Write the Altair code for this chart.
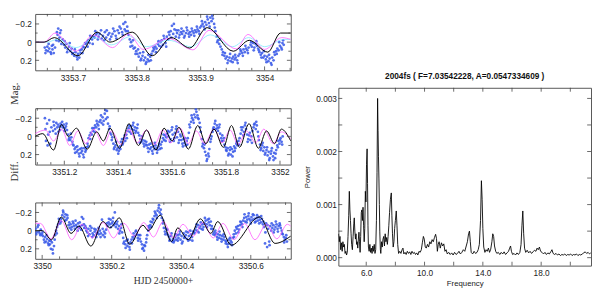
import altair as alt
import pandas as pd

# ---------------- data: observed light curves (HJD - 2450000, diff. mag) ----------------
p1_obs = [
 (3353.656,0.06),(3353.658,0.09),(3353.660,0.05),(3353.661,0.10),(3353.663,0.07),(3353.665,0.11),(3353.667,0.04),(3353.668,0.08),(3353.670,0.12),(3353.672,0.06),
 (3353.674,-0.02),(3353.676,-0.08),(3353.677,-0.15),(3353.679,-0.05),(3353.680,-0.10),(3353.682,0.02),(3353.684,-0.03),
 (3353.686,0.03),(3353.688,0.06),(3353.690,0.02),(3353.692,0.08),(3353.694,0.05),(3353.696,0.10),(3353.698,0.07),
 (3353.700,0.12),(3353.702,0.15),(3353.704,0.11),(3353.706,0.16),(3353.708,0.13),(3353.710,0.17),(3353.712,0.12),
 (3353.714,0.08),(3353.716,0.05),(3353.718,0.06),(3353.720,0.02),(3353.722,0.00),(3353.724,-0.02),(3353.726,0.01),(3353.728,-0.04),(3353.730,-0.03),(3353.732,-0.06),(3353.734,-0.05),
 (3353.736,-0.08),(3353.738,-0.10),(3353.740,-0.06),(3353.742,-0.09),(3353.745,-0.04),(3353.747,-0.07),(3353.750,-0.11),(3353.752,-0.05),(3353.755,-0.08),(3353.757,-0.10),(3353.760,-0.06),
 (3353.762,-0.09),(3353.765,-0.12),(3353.767,-0.07),(3353.770,-0.13),(3353.772,-0.10),(3353.775,-0.15),(3353.777,-0.11),(3353.779,-0.20),(3353.781,-0.14),(3353.783,-0.12),(3353.785,-0.17),
 (3353.787,-0.08),(3353.789,-0.03),(3353.791,0.00),(3353.793,0.04),(3353.795,0.07),(3353.797,0.06),(3353.799,0.10),
 (3353.801,0.13),(3353.803,0.16),(3353.805,0.12),(3353.807,0.18),(3353.809,0.15),(3353.811,0.20),(3353.813,0.17),(3353.815,0.22),(3353.817,0.19),(3353.819,0.21),(3353.821,0.16),
 (3353.823,0.13),(3353.825,0.10),(3353.827,0.08),(3353.829,0.05),(3353.831,0.07),(3353.833,0.02),(3353.835,0.04),
 (3353.837,0.00),(3353.839,-0.02),(3353.841,0.03),(3353.843,-0.04),(3353.845,0.01),(3353.847,-0.06),(3353.849,-0.03),(3353.851,-0.08),
 (3353.853,-0.12),(3353.855,-0.18),(3353.857,-0.09),(3353.859,-0.14),(3353.861,-0.06),(3353.863,-0.10),(3353.865,-0.13),(3353.867,-0.08),(3353.869,-0.11),(3353.871,-0.09),(3353.873,-0.12),(3353.875,-0.07),(3353.877,-0.10),(3353.879,-0.13),
 (3353.881,-0.09),(3353.883,-0.11),(3353.885,-0.08),(3353.887,-0.12),(3353.889,-0.10),(3353.891,-0.13),(3353.893,-0.11),(3353.895,-0.14),(3353.897,-0.12),(3353.899,-0.16),
 (3353.901,-0.18),(3353.903,-0.20),(3353.905,-0.17),(3353.907,-0.22),(3353.909,-0.19),(3353.911,-0.25),(3353.913,-0.21),(3353.915,-0.27),(3353.917,-0.23),(3353.919,-0.26),(3353.921,-0.20),
 (3353.923,-0.12),(3353.925,-0.06),(3353.927,-0.02),(3353.929,0.02),(3353.931,0.05),(3353.933,0.08),(3353.935,0.11),
 (3353.937,0.15),(3353.939,0.18),(3353.941,0.16),(3353.943,0.20),(3353.945,0.17),(3353.947,0.21),(3353.949,0.18),(3353.951,0.16),(3353.953,0.19),(3353.955,0.17),(3353.957,0.20),(3353.959,0.15),
 (3353.961,0.13),(3353.963,0.10),(3353.965,0.12),(3353.967,0.08),(3353.969,0.11),(3353.971,0.07),(3353.973,0.09),(3353.975,0.06),
 (3353.978,0.03),(3353.980,0.05),(3353.982,0.01),(3353.984,0.06),(3353.986,0.02),(3353.988,0.04),(3353.990,0.07),
 (3353.992,0.11),(3353.994,0.14),(3353.996,0.12),(3353.998,0.17),(3354.000,0.15),(3354.002,0.19),(3354.004,0.16),(3354.006,0.21),(3354.008,0.18),(3354.010,0.23),(3354.012,0.17),(3354.014,0.20),(3354.016,0.14),
 (3354.018,0.10),(3354.020,0.07),(3354.022,0.09),(3354.024,0.04),(3354.026,0.06),(3354.028,0.01),(3354.030,0.03),
]
p1_obs_b = [
 (3353.657,0.12),(3353.662,0.02),(3353.666,0.13),(3353.669,0.03),(3353.675,-0.11),(3353.678,-0.01),(3353.681,-0.13),(3353.687,-0.01),
 (3353.691,0.11),(3353.695,0.01),(3353.699,0.13),(3353.703,0.08),(3353.707,0.19),(3353.711,0.09),(3353.715,0.12),(3353.719,0.01),
 (3353.723,0.05),(3353.727,-0.07),(3353.731,0.02),(3353.735,-0.12),(3353.739,-0.03),(3353.744,-0.13),(3353.749,-0.02),(3353.753,-0.13),
 (3353.758,-0.03),(3353.763,-0.15),(3353.768,-0.04),(3353.773,-0.17),(3353.778,-0.08),(3353.782,-0.22),(3353.786,-0.12),(3353.790,0.05),
 (3353.794,-0.02),(3353.798,0.13),(3353.802,0.08),(3353.806,0.20),(3353.810,0.11),(3353.814,0.24),(3353.818,0.14),(3353.822,0.20),
 (3353.826,0.06),(3353.830,0.11),(3353.834,-0.01),(3353.838,0.05),(3353.842,-0.07),(3353.846,0.05),(3353.850,-0.11),(3353.854,-0.05),
 (3353.858,-0.20),(3353.862,-0.13),(3353.866,-0.05),(3353.870,-0.15),(3353.874,-0.05),(3353.878,-0.16),(3353.882,-0.06),(3353.886,-0.15),
 (3353.890,-0.07),(3353.894,-0.17),(3353.898,-0.09),(3353.902,-0.23),(3353.906,-0.14),(3353.910,-0.28),(3353.914,-0.17),(3353.918,-0.29),
 (3353.922,-0.16),(3353.926,0.00),(3353.930,-0.03),(3353.934,0.14),(3353.938,0.12),(3353.942,0.23),(3353.946,0.13),(3353.950,0.22),
 (3353.954,0.14),(3353.958,0.23),(3353.962,0.08),(3353.966,0.15),(3353.970,0.04),(3353.974,0.12),(3353.979,0.00),(3353.983,0.09),
 (3353.987,-0.01),(3353.991,0.09),(3353.995,0.17),(3353.999,0.10),(3354.003,0.22),(3354.007,0.14),(3354.011,0.25),(3354.015,0.11),
 (3354.019,0.13),(3354.023,0.00),(3354.027,0.08),(3354.029,-0.02),
]
p2_obs = [
 (3351.128,-0.20),(3351.132,0.05),(3351.136,-0.14),(3351.140,-0.02),(3351.144,-0.18),(3351.148,0.08),(3351.152,-0.10),
 (3351.158,-0.06),(3351.162,-0.12),(3351.166,-0.08),(3351.170,-0.15),(3351.174,-0.10),(3351.178,-0.05),
 (3351.182,-0.11),(3351.186,-0.14),(3351.190,-0.12),(3351.194,-0.10),(3351.198,-0.13),(3351.202,-0.09),(3351.206,-0.11),(3351.210,-0.07),
 (3351.214,-0.02),(3351.218,0.02),(3351.222,0.04),(3351.226,0.01),(3351.230,0.06),
 (3351.234,0.10),(3351.238,0.14),(3351.242,0.12),(3351.246,0.17),(3351.250,0.15),(3351.254,0.19),(3351.258,0.14),(3351.262,0.18),(3351.266,0.16),(3351.270,0.20),(3351.274,0.13),(3351.278,0.17),(3351.282,0.12),(3351.286,0.08),
 (3351.290,0.02),(3351.294,-0.01),(3351.298,-0.04),(3351.302,-0.02),(3351.306,-0.06),
 (3351.310,-0.09),(3351.314,-0.12),(3351.318,-0.10),(3351.322,-0.14),(3351.326,-0.12),(3351.330,-0.16),
 (3351.334,-0.18),(3351.338,-0.15),(3351.342,-0.21),(3351.346,-0.17),(3351.350,-0.25),(3351.354,-0.19),(3351.358,-0.28),(3351.362,-0.14),
 (3351.366,-0.08),(3351.370,-0.04),(3351.374,-0.02),(3351.378,0.01),
 (3351.382,0.08),(3351.386,0.12),(3351.390,0.10),(3351.394,0.15),(3351.398,0.13),(3351.402,0.16),(3351.406,0.11),
 (3351.410,0.06),(3351.414,0.03),(3351.418,0.07),(3351.422,0.02),(3351.426,0.05),
 (3351.430,-0.02),(3351.434,-0.06),(3351.438,-0.09),(3351.442,-0.05),(3351.446,-0.11),(3351.450,-0.08),(3351.454,-0.12),(3351.458,-0.07),(3351.462,-0.10),(3351.466,-0.06),(3351.470,-0.09),(3351.474,-0.04),(3351.478,-0.01),
 (3351.482,0.03),(3351.486,0.06),(3351.490,0.04),(3351.494,0.08),(3351.498,0.05),(3351.502,0.09),
 (3351.506,0.10),(3351.510,0.13),(3351.514,0.09),(3351.518,0.14),(3351.522,0.12),(3351.526,0.16),(3351.530,0.11),(3351.534,0.14),(3351.538,0.10),(3351.542,0.13),(3351.546,0.15),(3351.550,0.11),(3351.554,0.14),(3351.558,0.09),
 (3351.562,0.06),(3351.566,0.02),(3351.570,0.04),(3351.574,-0.01),(3351.578,0.01),(3351.582,-0.03),(3351.586,0.00),
 (3351.590,-0.05),(3351.594,0.03),(3351.598,-0.07),(3351.602,-0.02),(3351.606,0.05),(3351.610,-0.04),(3351.614,-0.08),(3351.618,0.01),(3351.622,-0.05),(3351.626,0.04),(3351.630,-0.02),
 (3351.634,0.04),(3351.638,0.08),(3351.642,0.03),(3351.646,0.07),(3351.650,0.10),(3351.654,0.05),(3351.658,0.02),(3351.662,-0.04),
 (3351.666,-0.10),(3351.670,-0.16),(3351.674,-0.20),(3351.678,-0.18),(3351.682,-0.24),(3351.686,-0.21),(3351.690,-0.27),(3351.694,-0.23),(3351.698,-0.19),(3351.702,-0.15),
 (3351.706,-0.05),(3351.710,0.03),(3351.714,0.08),(3351.718,0.13),(3351.722,0.17),(3351.726,0.21),(3351.730,0.25),(3351.734,0.19),(3351.738,0.14),
 (3351.742,0.06),(3351.746,0.00),(3351.750,-0.05),(3351.754,-0.10),(3351.758,-0.14),(3351.762,-0.08),(3351.766,-0.12),(3351.770,-0.06),(3351.774,-0.10),(3351.778,-0.03),(3351.782,0.02),(3351.786,-0.01),
 (3351.790,0.05),(3351.794,0.09),(3351.798,0.12),(3351.802,0.16),(3351.806,0.13),(3351.810,0.19),(3351.814,0.15),(3351.818,0.20),(3351.822,0.14),(3351.826,0.17),(3351.830,0.11),(3351.834,0.13),(3351.838,0.08),(3351.842,0.10),(3351.846,0.05),
 (3351.850,0.02),(3351.854,-0.03),(3351.858,-0.07),(3351.862,-0.10),(3351.866,-0.05),(3351.870,-0.12),(3351.874,-0.08),(3351.878,-0.02),(3351.882,0.03),(3351.886,-0.01),(3351.890,0.04),(3351.894,0.00),
 (3351.898,-0.06),(3351.902,-0.10),(3351.906,-0.14),(3351.910,-0.08),(3351.914,-0.12),(3351.918,-0.05),
 (3351.922,0.04),(3351.926,0.09),(3351.930,0.13),(3351.934,0.10),(3351.938,0.16),(3351.942,0.12),(3351.946,0.18),(3351.950,0.15),(3351.954,0.21),(3351.958,0.17),(3351.962,0.24),(3351.966,0.19),(3351.970,0.13),
 (3351.974,0.22),(3351.978,0.18),(3351.982,0.24),(3351.986,0.15),(3351.990,0.10),(3351.994,0.05),(3351.998,0.08),(3352.002,0.02),(3352.006,0.06),(3352.010,0.00),
]
p2_obs_b = [
 (3351.130,-0.08),(3351.138,0.10),(3351.146,-0.05),(3351.160,-0.16),(3351.168,-0.03),(3351.176,-0.13),(3351.184,-0.07),(3351.192,-0.16),
 (3351.200,-0.06),(3351.208,-0.14),(3351.216,0.04),(3351.224,-0.03),(3351.232,0.09),(3351.240,0.18),(3351.248,0.11),(3351.256,0.22),
 (3351.264,0.13),(3351.272,0.23),(3351.280,0.15),(3351.288,0.11),(3351.296,0.03),(3351.304,-0.09),(3351.312,-0.05),(3351.320,-0.17),
 (3351.328,-0.08),(3351.336,-0.23),(3351.344,-0.13),(3351.352,-0.29),(3351.360,-0.21),(3351.368,-0.11),(3351.376,0.04),(3351.384,0.14),
 (3351.392,0.06),(3351.400,0.19),(3351.408,0.14),(3351.416,0.09),(3351.424,-0.01),(3351.432,0.02),(3351.440,-0.12),(3351.448,-0.03),
 (3351.456,-0.15),(3351.464,-0.04),(3351.472,-0.13),(3351.480,0.07),(3351.488,0.00),(3351.496,0.11),(3351.504,0.06),(3351.512,0.17),
 (3351.520,0.08),(3351.528,0.19),(3351.536,0.07),(3351.544,0.18),(3351.552,0.08),(3351.560,0.13),(3351.568,-0.02),(3351.576,0.05),
 (3351.584,-0.06),(3351.592,0.06),(3351.600,-0.10),(3351.608,0.02),(3351.616,-0.11),(3351.624,0.07),(3351.632,0.00),(3351.640,0.11),
 (3351.648,0.02),(3351.656,0.09),(3351.664,-0.13),(3351.672,-0.23),(3351.680,-0.15),(3351.688,-0.30),(3351.696,-0.20),(3351.704,-0.10),
 (3351.712,0.11),(3351.720,0.09),(3351.728,0.27),(3351.736,0.22),(3351.744,0.03),(3351.752,-0.08),(3351.760,-0.17),(3351.768,-0.09),
 (3351.776,-0.13),(3351.784,0.05),(3351.792,0.02),(3351.800,0.15),(3351.808,0.21),(3351.816,0.12),(3351.824,0.22),(3351.832,0.16),
 (3351.840,0.06),(3351.848,0.09),(3351.856,-0.10),(3351.864,-0.01),(3351.872,-0.15),(3351.880,0.06),(3351.888,-0.04),(3351.896,0.07),
 (3351.904,-0.13),(3351.912,-0.16),(3351.920,0.00),(3351.928,0.15),(3351.936,0.07),(3351.944,0.20),(3351.952,0.12),(3351.960,0.26),
 (3351.968,0.16),(3351.976,0.26),(3351.984,0.19),(3351.992,0.12),(3352.000,0.04),(3352.008,0.09),
]
p3_obs = [
 (3349.981,-0.02),(3349.984,0.02),(3349.987,-0.04),(3349.990,0.01),(3349.993,0.03),(3349.996,-0.01),(3349.999,0.04),
 (3350.002,0.06),(3350.005,0.10),(3350.008,0.07),(3350.011,0.12),(3350.014,0.09),(3350.017,0.14),(3350.020,0.11),
 (3350.022,0.15),(3350.025,0.20),(3350.028,0.13),(3350.031,0.25),(3350.034,0.17),
 (3350.037,0.05),(3350.040,0.00),(3350.043,-0.04),(3350.046,-0.07),(3350.049,-0.10),(3350.052,-0.08),
 (3350.055,-0.13),(3350.058,-0.17),(3350.061,-0.20),(3350.064,-0.15),(3350.067,-0.18),(3350.070,-0.12),(3350.073,-0.14),
 (3350.076,-0.06),(3350.079,-0.03),(3350.082,-0.07),(3350.085,-0.04),(3350.088,-0.10),(3350.091,-0.05),(3350.094,-0.02),(3350.097,-0.06),(3350.100,-0.04),(3350.103,-0.08),(3350.106,-0.03),(3350.109,-0.05),(3350.112,-0.01),(3350.115,-0.06),(3350.118,-0.13),(3350.121,-0.03),(3350.124,-0.05),(3350.127,0.00),
 (3350.130,0.02),(3350.133,-0.02),(3350.136,0.04),(3350.139,0.00),(3350.142,-0.03),(3350.145,0.03),(3350.148,0.05),(3350.151,0.01),(3350.154,-0.01),(3350.157,0.03),
 (3350.160,0.02),(3350.163,0.04),(3350.166,0.00),(3350.169,0.03),(3350.172,-0.12),(3350.175,0.05),(3350.178,0.01),(3350.181,0.03),(3350.184,-0.01),
 (3350.188,-0.05),(3350.191,-0.09),(3350.194,-0.07),(3350.197,-0.12),(3350.200,-0.08),(3350.203,-0.10),(3350.206,-0.06),(3350.209,-0.20),
 (3350.212,-0.04),(3350.215,-0.07),(3350.218,-0.02),(3350.221,-0.05),(3350.224,0.00),(3350.227,-0.03),(3350.230,0.02),
 (3350.233,0.08),(3350.236,0.12),(3350.239,0.15),(3350.242,0.11),(3350.245,0.17),(3350.248,0.14),(3350.251,0.18),(3350.254,0.13),(3350.257,0.10),
 (3350.260,0.07),(3350.263,0.03),(3350.266,0.06),(3350.269,0.01),(3350.272,0.04),(3350.275,0.08),(3350.278,0.05),(3350.281,0.09),(3350.284,0.12),
 (3350.287,0.15),(3350.290,0.19),(3350.293,0.22),(3350.296,0.17),(3350.299,0.13),
 (3350.302,0.05),(3350.305,0.00),(3350.308,-0.03),(3350.311,-0.06),(3350.314,-0.04),(3350.317,-0.09),
 (3350.320,-0.12),(3350.323,-0.16),(3350.326,-0.19),(3350.329,-0.17),(3350.332,-0.22),(3350.335,-0.25),(3350.338,-0.20),(3350.341,-0.23),
 (3350.344,-0.14),(3350.347,-0.08),(3350.350,-0.03),(3350.353,0.01),(3350.356,-0.02),(3350.359,0.03),(3350.362,0.05),
 (3350.365,0.07),(3350.368,0.10),(3350.371,0.06),(3350.374,0.12),(3350.377,0.09),(3350.380,0.11),(3350.383,0.07),(3350.386,0.10),(3350.389,0.05),
 (3350.392,0.08),(3350.395,0.04),(3350.398,0.10),(3350.401,0.06),(3350.404,0.12),(3350.407,0.03),(3350.410,0.07),(3350.413,0.05),(3350.416,0.09),(3350.419,0.02),(3350.422,0.06),(3350.425,0.10),(3350.428,0.04),(3350.431,0.07),(3350.434,0.01),(3350.437,0.03),
 (3350.440,-0.01),(3350.443,-0.04),(3350.446,0.00),(3350.449,-0.06),(3350.452,-0.03),(3350.455,-0.05),(3350.458,-0.02),(3350.461,-0.07),(3350.464,-0.04),
 (3350.467,-0.08),(3350.470,-0.11),(3350.473,-0.07),(3350.476,-0.12),(3350.479,-0.09),(3350.482,-0.06),(3350.485,-0.10),(3350.488,-0.05),(3350.491,-0.02),
 (3350.494,0.02),(3350.497,0.05),(3350.500,0.03),(3350.503,0.07),(3350.506,0.04),(3350.509,0.08),(3350.512,0.05),(3350.515,0.09),(3350.518,0.06),(3350.521,0.10),(3350.524,0.07),(3350.527,0.11),
 (3350.530,0.12),(3350.533,0.15),(3350.536,0.10),(3350.539,0.14),(3350.542,0.11),(3350.545,0.13),(3350.548,0.08),
 (3350.551,0.04),(3350.554,0.00),(3350.557,0.03),(3350.560,-0.02),(3350.563,-0.05),(3350.566,-0.01),(3350.569,-0.06),(3350.572,-0.09),(3350.575,-0.07),
 (3350.578,-0.11),(3350.581,-0.14),(3350.584,-0.10),(3350.587,-0.15),(3350.590,-0.12),(3350.593,-0.16),(3350.596,-0.13),(3350.599,-0.11),(3350.602,-0.15),(3350.605,-0.12),(3350.608,-0.17),(3350.611,-0.13),(3350.614,-0.10),(3350.617,-0.14),(3350.620,-0.11),(3350.623,-0.15),(3350.626,-0.12),(3350.629,-0.09),(3350.632,-0.13),
 (3350.635,-0.07),(3350.638,-0.04),(3350.641,0.14),(3350.644,-0.08),(3350.647,0.18),(3350.650,-0.02),(3350.653,0.12),(3350.656,-0.05),(3350.659,0.00),
 (3350.662,-0.03),(3350.665,-0.06),(3350.668,-0.01),(3350.671,-0.04),(3350.674,-0.07),(3350.677,-0.02),(3350.680,-0.05),(3350.683,-0.08),(3350.686,-0.03),(3350.689,0.00),
 (3350.692,0.04),(3350.695,0.07),(3350.698,0.10),(3350.701,0.08),(3350.704,0.12),
]
p3_obs_b = [
 (3349.983,0.04),(3349.989,-0.06),(3349.995,0.05),(3350.001,0.02),(3350.007,0.13),(3350.013,0.05),(3350.019,0.16),(3350.024,0.11),
 (3350.030,0.21),(3350.036,0.10),(3350.042,0.03),(3350.048,-0.13),(3350.054,-0.10),(3350.060,-0.22),(3350.066,-0.11),(3350.072,-0.17),
 (3350.078,-0.09),(3350.084,-0.01),(3350.090,-0.08),(3350.096,-0.11),(3350.102,0.00),(3350.108,-0.09),(3350.114,-0.15),(3350.120,-0.07),
 (3350.126,-0.03),(3350.132,0.06),(3350.138,-0.05),(3350.144,0.07),(3350.150,-0.02),(3350.156,0.07),(3350.162,-0.03),(3350.168,0.07),
 (3350.174,-0.02),(3350.180,0.07),(3350.186,-0.08),(3350.192,-0.13),(3350.198,-0.04),(3350.204,-0.14),(3350.210,-0.08),(3350.216,-0.10),
 (3350.222,0.03),(3350.228,-0.07),(3350.234,0.14),(3350.240,0.19),(3350.246,0.10),(3350.252,0.21),(3350.258,0.14),(3350.264,0.09),
 (3350.270,0.00),(3350.276,0.11),(3350.282,0.05),(3350.288,0.20),(3350.294,0.16),(3350.300,0.09),(3350.306,-0.05),(3350.312,-0.10),
 (3350.318,-0.13),(3350.324,-0.21),(3350.330,-0.14),(3350.336,-0.28),(3350.342,-0.18),(3350.348,-0.11),(3350.354,0.04),(3350.360,-0.01),
 (3350.366,0.11),(3350.372,0.03),(3350.378,0.13),(3350.384,0.04),(3350.390,0.11),(3350.396,0.01),(3350.402,0.14),(3350.408,0.08),
 (3350.414,0.01),(3350.420,0.11),(3350.426,0.00),(3350.432,0.11),(3350.438,0.02),(3350.444,-0.07),(3350.450,0.02),(3350.456,-0.09),
 (3350.462,-0.01),(3350.468,-0.14),(3350.474,-0.04),(3350.480,-0.13),(3350.486,-0.02),(3350.492,0.04),(3350.498,0.00),(3350.504,0.10),
 (3350.510,0.01),(3350.516,0.12),(3350.522,0.04),(3350.528,0.14),(3350.534,0.18),(3350.540,0.08),(3350.546,0.16),(3350.552,0.07),
 (3350.558,-0.04),(3350.564,0.02),(3350.570,-0.10),(3350.576,-0.04),(3350.582,-0.18),(3350.588,-0.09),(3350.594,-0.19),(3350.600,-0.08),
 (3350.606,-0.18),(3350.612,-0.09),(3350.618,-0.17),(3350.624,-0.08),(3350.630,-0.16),(3350.636,-0.10),(3350.642,0.02),(3350.648,-0.06),
 (3350.654,0.16),(3350.660,-0.08),(3350.666,0.02),(3350.672,-0.10),(3350.678,0.01),(3350.684,-0.06),(3350.690,0.03),(3350.696,0.13),
 (3350.702,0.05),
]

# ---------------- data: model curves (extrema) ----------------
p1_black = [(3353.641,0.0),(3353.655,0.0),(3353.671,-0.05),(3353.708,0.15),(3353.738,-0.11),(3353.758,0.0),(3353.793,-0.11),
            (3353.824,0.15),(3353.854,-0.05),(3353.883,0.065),(3353.910,-0.16),(3353.951,0.10),(3353.976,-0.02),(3354.005,0.11),
            (3354.025,-0.10),(3354.041,-0.10)]
p1_mag = [(3353.641,0.0),(3353.655,0.0),(3353.672,-0.10),(3353.705,0.10),(3353.732,-0.08),(3353.762,0.06),(3353.787,-0.09),
          (3353.810,0.08),(3353.850,-0.04),(3353.888,0.085),(3353.913,-0.13),(3353.956,0.075),(3353.974,-0.085),(3354.000,0.08),
          (3354.027,-0.05),(3354.041,-0.03)]
p1_cyan = [(3353.641,0.0),(3353.660,0.0),(3353.675,-0.03),(3353.705,0.06),(3353.735,-0.05),(3353.760,0.03),(3353.790,-0.06),
           (3353.815,0.05),(3353.850,-0.02),(3353.885,0.05),(3353.915,-0.08),(3353.950,0.05),(3353.975,-0.05),(3354.000,0.05),
           (3354.030,-0.03),(3354.041,-0.03)]
p2_black = [(3351.092,0.0),(3351.120,-0.03),(3351.160,0.15),(3351.190,-0.13),(3351.215,0.0),(3351.245,-0.09),(3351.285,0.14),
            (3351.320,-0.05),(3351.345,0.05),(3351.370,-0.09),(3351.405,0.13),(3351.440,-0.14),(3351.475,0.10),(3351.505,-0.07),
            (3351.540,0.15),(3351.570,-0.09),(3351.600,0.05),(3351.625,-0.10),(3351.660,0.14),(3351.695,-0.12),(3351.725,0.08),
            (3351.755,-0.08),(3351.790,0.12),(3351.820,-0.12),(3351.850,0.12),(3351.885,-0.14),(3351.920,0.13),(3351.950,-0.06),
            (3351.980,0.08),(3352.005,-0.08),(3352.040,0.05)]
p2_mag = [(3351.092,-0.03),(3351.130,-0.07),(3351.160,0.05),(3351.190,-0.08),(3351.220,0.10),(3351.250,-0.06),(3351.280,0.08),
          (3351.310,-0.08),(3351.345,0.10),(3351.375,-0.06),(3351.410,0.09),(3351.440,-0.08),(3351.470,0.07),(3351.505,-0.07),
          (3351.535,0.09),(3351.565,-0.07),(3351.595,0.07),(3351.630,-0.09),(3351.660,0.08),(3351.690,-0.06),(3351.720,0.08),
          (3351.755,-0.08),(3351.785,0.07),(3351.815,-0.07),(3351.845,0.09),(3351.875,-0.06),(3351.910,0.07),(3351.940,-0.08),
          (3351.975,0.08),(3352.005,-0.05),(3352.040,0.03)]
p3_black = [(3349.980,0.0),(3350.000,0.0),(3350.027,0.10),(3350.055,-0.15),(3350.083,0.03),(3350.106,-0.05),(3350.140,0.17),
            (3350.175,-0.10),(3350.195,-0.03),(3350.222,-0.14),(3350.252,0.15),(3350.290,-0.06),(3350.305,0.0),(3350.340,-0.17),
            (3350.372,0.12),(3350.390,-0.03),(3350.420,0.10),(3350.455,-0.13),(3350.485,0.03),(3350.505,-0.10),(3350.544,0.16),
            (3350.625,-0.15),(3350.670,0.14),(3350.715,0.06)]
p3_mag = [(3349.980,-0.08),(3349.995,-0.08),(3350.025,0.09),(3350.055,-0.11),(3350.085,0.10),(3350.115,-0.07),(3350.145,0.08),
          (3350.175,-0.09),(3350.205,0.08),(3350.235,-0.08),(3350.265,0.06),(3350.292,-0.09),(3350.320,0.07),(3350.348,-0.10),
          (3350.378,0.08),(3350.405,-0.07),(3350.435,0.06),(3350.462,-0.09),(3350.492,0.08),(3350.520,-0.08),(3350.552,0.10),
          (3350.582,-0.08),(3350.612,0.10),(3350.645,-0.07),(3350.675,0.09),(3350.705,-0.07),(3350.715,-0.05)]

# ---------------- data: amplitude spectrum (frequency c/d, power) ----------------
spectrum = [
 (4.10,0.00045),(4.15,0.00030),(4.20,0.00040),(4.25,0.00015),(4.30,0.00028),(4.35,0.00012),(4.40,0.00030),(4.45,0.00020),
 (4.50,0.00025),(4.55,0.00008),(4.60,0.00012),(4.65,0.00005),(4.70,0.00010),(4.75,0.00040),(4.80,0.00080),(4.84,0.00125),
 (4.88,0.00090),(4.92,0.00070),(4.96,0.00045),(5.00,0.00025),(5.05,0.00015),(5.10,0.00040),(5.15,0.00065),(5.18,0.00075),
 (5.22,0.00050),(5.26,0.00035),(5.30,0.00045),(5.34,0.00025),(5.38,0.00030),(5.42,0.00018),(5.46,0.00035),(5.50,0.00048),
 (5.54,0.00030),(5.58,0.00010),(5.62,0.00040),(5.66,0.00085),(5.70,0.00090),(5.74,0.00070),(5.78,0.00095),(5.82,0.00060),
 (5.86,0.00030),(5.90,0.00055),(5.94,0.00125),(5.98,0.00105),(6.02,0.00175),(6.06,0.00205),(6.09,0.00140),(6.12,0.00060),
 (6.15,0.00020),(6.20,0.00012),(6.25,0.00025),(6.30,0.00010),(6.35,0.00018),(6.40,0.00008),(6.45,0.00022),(6.50,0.00012),
 (6.55,0.00025),(6.60,0.00008),(6.65,0.00015),(6.70,0.00070),(6.74,0.00160),(6.78,0.00300),(6.81,0.00240),(6.84,0.00190),
 (6.87,0.00150),(6.90,0.00100),(6.93,0.00050),(6.97,0.00015),(7.00,0.00008),(7.05,0.00030),(7.10,0.00020),(7.15,0.00035),
 (7.20,0.00040),(7.25,0.00022),(7.30,0.00045),(7.35,0.00030),(7.40,0.00038),(7.45,0.00025),(7.50,0.00040),(7.55,0.00060),
 (7.60,0.00085),(7.66,0.00110),(7.72,0.00122),(7.76,0.00080),(7.80,0.00045),(7.85,0.00020),(7.90,0.00030),(7.95,0.00055),
 (8.00,0.00070),(8.06,0.00088),(8.11,0.00060),(8.16,0.00025),(8.22,0.00008),(8.30,0.00012),(8.38,0.00008),(8.46,0.00015),
 (8.52,0.00018),(8.58,0.00007),(8.66,0.00010),(8.74,0.00006),(8.82,0.00012),(8.90,0.00008),(8.98,0.00011),(9.06,0.00006),
 (9.14,0.00012),(9.22,0.00008),(9.30,0.00010),(9.38,0.00006),(9.46,0.00009),(9.54,0.00005),(9.62,0.00012),(9.70,0.00010),
 (9.78,0.00015),(9.85,0.00028),(9.92,0.00040),(9.98,0.00035),(10.05,0.00020),(10.12,0.00018),(10.20,0.00025),(10.28,0.00020),
 (10.36,0.00030),(10.44,0.00026),(10.52,0.00034),(10.60,0.00030),(10.68,0.00038),(10.76,0.00044),(10.82,0.00036),(10.88,0.00012),
 (10.94,0.00025),(11.00,0.00030),(11.08,0.00018),(11.16,0.00028),(11.24,0.00022),(11.32,0.00026),(11.40,0.00012),(11.48,0.00015),
 (11.56,0.00007),(11.66,0.00010),(11.76,0.00006),(11.86,0.00009),(11.96,0.00005),(12.06,0.00010),(12.16,0.00006),(12.26,0.00008),
 (12.36,0.00012),(12.46,0.00007),(12.56,0.00010),(12.66,0.00015),(12.76,0.00012),(12.86,0.00022),(12.94,0.00030),(13.02,0.00045),
 (13.08,0.00050),(13.14,0.00030),(13.20,0.00010),(13.30,0.00007),(13.40,0.00012),(13.50,0.00008),(13.60,0.00010),(13.68,0.00015),
 (13.76,0.00025),(13.84,0.00070),(13.90,0.00145),(13.95,0.00110),(14.00,0.00055),(14.06,0.00020),(14.14,0.00010),(14.22,0.00015),
 (14.30,0.00012),(14.38,0.00018),(14.46,0.00010),(14.54,0.00016),(14.62,0.00030),(14.68,0.00045),(14.74,0.00040),(14.80,0.00022),
 (14.88,0.00012),(14.96,0.00008),(15.06,0.00010),(15.16,0.00006),(15.26,0.00010),(15.36,0.00007),(15.46,0.00011),(15.56,0.00006),
 (15.66,0.00009),(15.76,0.00012),(15.84,0.00018),(15.90,0.00022),(15.96,0.00012),(16.04,0.00006),(16.14,0.00008),(16.24,0.00005),
 (16.34,0.00009),(16.44,0.00006),(16.54,0.00010),(16.62,0.00025),(16.68,0.00060),(16.74,0.00088),(16.80,0.00045),(16.86,0.00018),
 (16.94,0.00010),(17.04,0.00014),(17.14,0.00009),(17.24,0.00012),(17.34,0.00008),(17.44,0.00011),(17.54,0.00014),(17.64,0.00012),
 (17.72,0.00018),(17.80,0.00015),(17.88,0.00020),(17.96,0.00012),(18.06,0.00010),(18.16,0.00007),(18.26,0.00010),(18.36,0.00006),
 (18.46,0.00009),(18.56,0.00007),(18.66,0.00011),(18.74,0.00015),(18.82,0.00008),(18.92,0.00006),(19.02,0.00008),(19.12,0.00005),
 (19.22,0.00007),(19.32,0.00004),(19.42,0.00006),(19.52,0.00005),(19.62,0.00007),(19.72,0.00004),(19.82,0.00006),(19.92,0.00005),
 (20.02,0.00007),(20.12,0.00004),(20.22,0.00006),(20.32,0.00005),(20.42,0.00007),(20.52,0.00004),(20.62,0.00006),(20.72,0.00005),
 (20.82,0.00007),(20.92,0.00009),(21.02,0.00011),(21.12,0.00008),(21.22,0.00010),(21.32,0.00007),(21.40,0.00009),
]

# ---------------- axes: domains, tick values, labels ----------------
p1_dom = [3353.641, 3354.041]
p2_dom = [3351.092, 3352.040]
p3_dom = [3349.980, 3350.715]
mag_dom = [-0.31, 0.31]
p1_major = [3353.7, 3353.8, 3353.9, 3354.0]
p1_minor = [3353.66, 3353.68, 3353.72, 3353.74, 3353.76, 3353.78, 3353.82, 3353.84, 3353.86, 3353.88,
            3353.92, 3353.94, 3353.96, 3353.98, 3354.02, 3354.04]
p2_major = [3351.2, 3351.4, 3351.6, 3351.8, 3352.0]
p2_minor = [3351.1, 3351.15, 3351.25, 3351.3, 3351.35, 3351.45, 3351.5, 3351.55, 3351.65, 3351.7,
            3351.75, 3351.85, 3351.9, 3351.95]
p3_major = [3350.0, 3350.2, 3350.4, 3350.6]
p3_minor = [3350.05, 3350.1, 3350.15, 3350.25, 3350.3, 3350.35, 3350.45, 3350.5, 3350.55, 3350.65, 3350.7]
mag_major = [-0.2, 0.0, 0.2]
mag_minor = [-0.1, 0.1]
f_dom = [4.09, 21.42]
pw_dom = [-0.00015, 0.0032]
f_major = [6, 10, 14, 18]
f_minor = [8, 12, 16, 20]
pw_major = [0.0, 0.001, 0.002, 0.003]
pw_minor = [0.0005, 0.0015, 0.0025]

title_txt = "2004fs ( F=7.03542228, A=0.0547334609 )"
xlab_left = "HJD 2450000+"
ylab_left_top = "Mag."
ylab_left_bot = "Diff."
xlab_right = "Frequency"
ylab_right = "Power"

# ---------------- styling ----------------
SANS = "Liberation Sans"
SERIF = "Liberation Serif"
BLUE = "#3556e8"
TICKC = "#444"
LW, LH = 263, 58
RW, RH = 260, 183


def inner_ticks(vals, ch, enc_kw, length, w, h):
    df = pd.DataFrame({ch: vals})
    base = alt.Chart(df)
    if ch == "x":
        a = base.mark_rule(color=TICKC, strokeWidth=0.8).encode(x=enc_kw(), y=alt.value(0), y2=alt.value(length))
        b = base.mark_rule(color=TICKC, strokeWidth=0.8).encode(x=enc_kw(), y=alt.value(h), y2=alt.value(h - length))
    else:
        a = base.mark_rule(color=TICKC, strokeWidth=0.8).encode(y=enc_kw(), x=alt.value(0), x2=alt.value(length))
        b = base.mark_rule(color=TICKC, strokeWidth=0.8).encode(y=enc_kw(), x=alt.value(w), x2=alt.value(w - length))
    return [a, b]


def left_panel(obs, obs_b, black, mag, cyan, dom, major, minor, xtitle=None, ytexts=False):
    xs = alt.Scale(domain=dom, nice=False, zero=False)
    ys = alt.Scale(domain=mag_dom, reverse=True, nice=False, zero=False)
    xkw = dict(values=major, format=".1~f", ticks=False, domain=False, grid=False,
               labelPadding=3, labelFlush=False, labelOverlap=False)
    if xtitle:
        xkw.update(titleFont=SERIF, titleFontSize=10, titleFontWeight="normal",
                   titleColor="#333", titlePadding=6)
    xax = alt.Axis(**xkw)
    yax = alt.Axis(values=mag_major, format=".1~f", ticks=False, domain=False, grid=False,
                   labelPadding=4, labelOverlap=False)

    def X():
        return alt.X("x:Q", scale=xs, axis=xax, title=xtitle)

    def Y():
        return alt.Y("y:Q", scale=ys, axis=yax, title=None)

    def df(pairs):
        return pd.DataFrame(pairs, columns=["x", "y"])

    layers = []
    layers.append(alt.Chart(df(obs + obs_b)).mark_circle(size=8, color=BLUE, opacity=0.85, clip=True).encode(x=X(), y=Y()))
    if cyan is not None:
        layers.append(alt.Chart(df(cyan)).mark_line(color="#7fe9ff", strokeWidth=0.8, interpolate="monotone", clip=True).encode(x=X(), y=Y()))
    layers.append(alt.Chart(df(mag)).mark_line(color="#ff5cff", strokeWidth=0.8, interpolate="monotone", clip=True).encode(x=X(), y=Y()))
    layers.append(alt.Chart(df(black)).mark_line(color="#000", strokeWidth=1.0, interpolate="monotone", clip=True).encode(x=X(), y=Y()))
    layers += inner_ticks(major, "x", X, 4, LW, LH)
    layers += inner_ticks(minor, "x", X, 2.5, LW, LH)
    layers += inner_ticks(mag_major, "y", Y, 4, LW, LH)
    layers += inner_ticks(mag_minor, "y", Y, 2.5, LW, LH)
    if ytexts:
        layers.append(alt.Chart(pd.DataFrame({"t": [ylab_left_top]})).mark_text(
            angle=270, font=SERIF, fontSize=11, color="#333").encode(
            x=alt.value(-21), y=alt.value(-15), text="t:N"))
        layers.append(alt.Chart(pd.DataFrame({"t": [ylab_left_bot]})).mark_text(
            angle=270, font=SERIF, fontSize=11, color="#333").encode(
            x=alt.value(-21), y=alt.value(LH + 7), text="t:N"))
    return alt.layer(*layers).properties(width=LW, height=LH)


p1 = left_panel(p1_obs, p1_obs_b, p1_black, p1_mag, p1_cyan, p1_dom, p1_major, p1_minor)
p2 = left_panel(p2_obs, p2_obs_b, p2_black, p2_mag, None, p2_dom, p2_major, p2_minor, ytexts=True)
p3 = left_panel(p3_obs, p3_obs_b, p3_black, p3_mag, None, p3_dom, p3_major, p3_minor, xtitle=xlab_left)

# ---------------- right panel ----------------
fs = alt.Scale(domain=f_dom, nice=False, zero=False)
pws = alt.Scale(domain=pw_dom, nice=False, zero=False)
fax = alt.Axis(values=f_major, format=".1f", ticks=False, domain=False, grid=False, labelPadding=3,
               labelFlush=False, labelOverlap=False, titleFont=SANS, titleFontSize=8,
               titleFontWeight="normal", titleColor="#222", titlePadding=3)
pax = alt.Axis(values=pw_major, format=".3f", ticks=False, domain=False, grid=False, labelPadding=2,
               labelOverlap=False, titleFont=SANS, titleFontSize=8, titleFontWeight="normal",
               titleColor="#222", titlePadding=4)


def FX():
    return alt.X("x:Q", scale=fs, axis=fax, title=xlab_right)


def PY():
    return alt.Y("y:Q", scale=pws, axis=pax, title=ylab_right)


spec_df = pd.DataFrame(spectrum, columns=["x", "y"])
rlayers = [alt.Chart(spec_df).mark_line(color="#000", strokeWidth=0.9, clip=True).encode(x=FX(), y=PY())]
rlayers += inner_ticks(f_major, "x", FX, 4, RW, RH)
rlayers += inner_ticks(f_minor, "x", FX, 4, RW, RH)
rlayers += inner_ticks(pw_major, "y", PY, 4, RW, RH)
rlayers += inner_ticks(pw_minor, "y", PY, 4, RW, RH)
rlayers.append(alt.Chart(pd.DataFrame({"t": [title_txt]})).mark_text(
    font=SANS, fontSize=8.5, fontWeight="bold", color="#111").encode(
    x=alt.value(RW / 2), y=alt.value(-12), text="t:N"))
pg = alt.layer(*rlayers).properties(width=RW, height=RH)

spacer = alt.Chart(pd.DataFrame({"x": [0]})).mark_point(opacity=0).encode(
    x=alt.X("x:Q", axis=None), y=alt.Y("x:Q", axis=None)
).properties(width=RW, height=76, view=alt.ViewBackground(stroke="transparent"))

left = alt.vconcat(p1, p2, p3, spacing=39, bounds="flush")
right = alt.vconcat(spacer, pg, spacing=0, bounds="flush")

chart = alt.hconcat(left, right, spacing=12).properties(
    padding={"left": 0, "top": 1, "right": 0, "bottom": 0}
).configure_view(stroke="#555", strokeWidth=1).configure_axis(
    labelFont=SANS, labelFontSize=8.5, labelColor="#222"
)

chart.save("out.html", embed_options={"renderer": "svg", "actions": False})
